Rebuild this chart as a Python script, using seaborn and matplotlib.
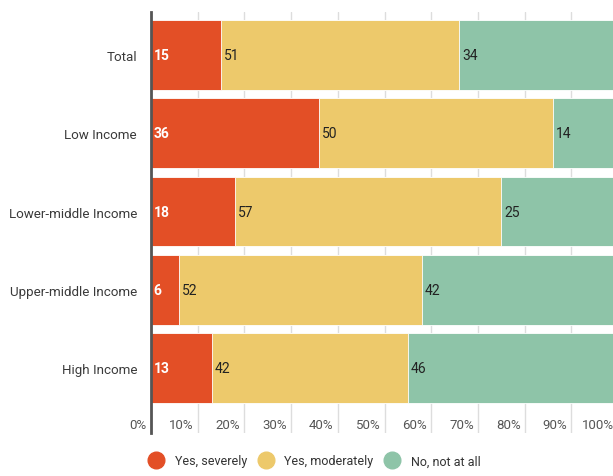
import matplotlib
matplotlib.use("Agg")
import matplotlib.pyplot as plt
import matplotlib.transforms as mtransforms
from matplotlib.lines import Line2D
import numpy as np
import pandas as pd
import seaborn as sns

groups = ["Total", "Low Income", "Lower-middle Income", "Upper-middle Income", "High Income"]
severely = [15, 36, 18, 6, 13]
moderately = [51, 50, 57, 52, 42]
not_at_all = [34, 14, 25, 42, 46]

series_names = ["Yes, severely", "Yes, moderately", "No, not at all"]
colors = ["#E34F26", "#EDC96B", "#8EC4A8"]

sns.set_style("white")
plt.rcParams["font.family"] = ["Roboto", "DejaVu Sans"]

df = pd.DataFrame({"group": groups, "sev": severely, "mod": moderately, "no": not_at_all})
df["cum_mod"] = df["sev"] + df["mod"]
df["cum_no"] = df["cum_mod"] + df["no"]

fig = plt.figure(figsize=(6.13, 4.77), dpi=100)
ax = fig.add_axes([151 / 613, 43 / 477, 467 / 613, 421 / 477])

# stacked bars drawn as overlapping cumulative bars
for col, c in zip(["cum_no", "cum_mod", "sev"], colors[::-1]):
    sns.barplot(data=df, x=col, y="group", orient="h", color=c, width=0.89,
                saturation=1, edgecolor="white", linewidth=0.6, ax=ax, zorder=2)

ax.set_xlim(0, 100)
ax.set_ylim(4.83, -0.55)
ax.set_xlabel("")
ax.set_ylabel("")

# value labels at the start of each segment
for i in range(len(groups)):
    starts = [0, severely[i], severely[i] + moderately[i]]
    vals = [severely[i], moderately[i], not_at_all[i]]
    for j, (s, v) in enumerate(zip(starts, vals)):
        ax.text(s + 0.6, i, str(v), va="center", ha="left", fontsize=10,
                color="white" if j == 0 else "#222222",
                fontweight="bold" if j == 0 else "normal", zorder=3)

ax.set_xticks(np.arange(0, 101, 10))
ax.set_xticklabels([f"{t}%" for t in range(0, 101, 10)])
ax.grid(axis="x", color="#DDDDDD", linewidth=1, zorder=0)
ax.tick_params(axis="x", length=0, labelsize=9.5, labelcolor="#555555", pad=0)
for lab in ax.get_xticklabels():
    lab.set_horizontalalignment("right")
    lab.set_transform(lab.get_transform() + mtransforms.ScaledTranslation(-4 / 100, 15 / 100, fig.dpi_scale_trans))

ax.tick_params(axis="y", length=0, labelsize=9.6, labelcolor="#3A3A3A", pad=10)

for s in ["top", "right", "bottom"]:
    ax.spines[s].set_visible(False)
ax.spines["left"].set_color("#555555")
ax.spines["left"].set_linewidth(2)
ax.spines["left"].set_zorder(4)

handles = [Line2D([0], [0], marker="o", linestyle="", markersize=12,
                  markerfacecolor=c, markeredgecolor=c) for c in colors]
fig.legend(handles, series_names, loc="center", bbox_to_anchor=(0.514, 15 / 477),
           ncol=3, frameon=False, fontsize=9, handlelength=1.0, handletextpad=1.0,
           columnspacing=1.0, labelcolor="#333333", borderpad=0)

fig.savefig("out.png", dpi=100)
